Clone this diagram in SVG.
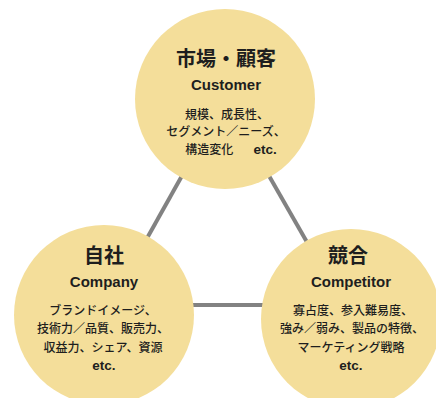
<svg xmlns="http://www.w3.org/2000/svg" width="436" height="398" viewBox="0 0 436 398">
<style>
.c{fill:#F4DE9A}
.l{stroke:#828282;stroke-width:4;fill:none}
text{font-family:"Liberation Sans","Noto Sans CJK JP",sans-serif;fill:#1e1e1e;text-anchor:middle}
.t{font-size:20px;font-weight:bold}
.s{font-size:15px;font-weight:bold}
.b{font-size:12px;font-weight:500}
.e{font-weight:bold;font-size:13.5px}
</style>
<rect width="436" height="398" fill="#ffffff"/>
<g id="connectors">
<line class="l" x1="225" y1="99" x2="104" y2="315"/>
<line class="l" x1="225" y1="99" x2="351" y2="319"/>
<line class="l" x1="104" y1="305" x2="351" y2="305"/>
</g>
<g id="customer">
<circle class="c" cx="225" cy="99" r="90"/>
<text class="t" x="226" y="66">市場・顧客</text>
<text class="s" x="226" y="90">Customer</text>
<text class="b" x="227" y="118.5">規模、成長性、</text>
<text class="b" x="226" y="135.5">セグメント／ニーズ、</text>
<text class="b" x="231" y="153.5">構造変化<tspan class="e" dx="20">etc.</tspan></text>
</g>
<g id="company">
<circle class="c" cx="104" cy="315" r="90"/>
<text class="t" x="104" y="262.5">自社</text>
<text class="s" x="104" y="287">Company</text>
<text class="b" x="103" y="314.5">ブランドイメージ、</text>
<text class="b" x="103" y="332.5">技術力／品質、販売力、</text>
<text class="b" x="103" y="351.5">収益力、シェア、資源</text>
<text class="b e" x="104" y="369.5">etc.</text>
</g>
<g id="competitor">
<circle class="c" cx="351" cy="319" r="90"/>
<text class="t" x="348" y="262.5">競合</text>
<text class="s" x="351" y="287">Competitor</text>
<text class="b" x="353" y="314.5">寡占度、参入難易度、</text>
<text class="b" x="352" y="332.5">強み／弱み、製品の特徴、</text>
<text class="b" x="351" y="351.5">マーケティング戦略</text>
<text class="b e" x="351" y="369.5">etc.</text>
</g>
</svg>
